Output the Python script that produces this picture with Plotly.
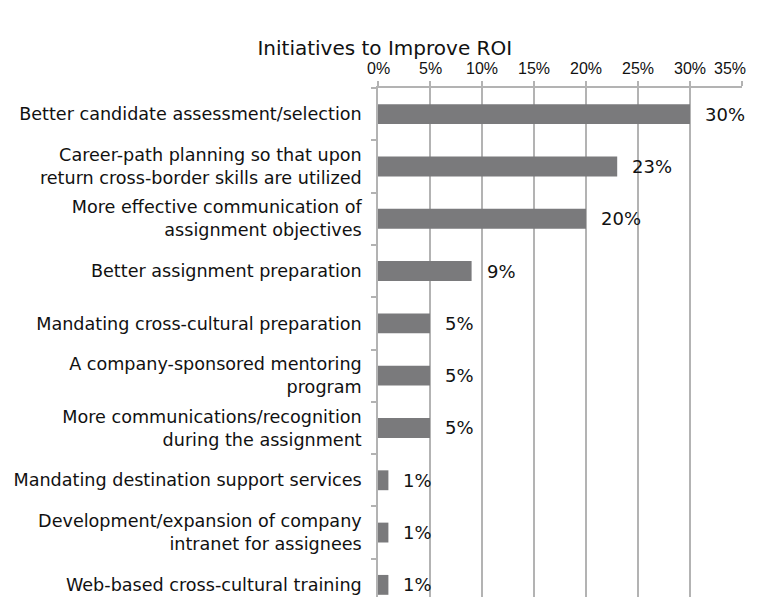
import plotly.graph_objects as go

categories = [
    "Better candidate assessment/selection",
    "Career-path planning so that upon<br>return cross-border skills are utilized",
    "More effective communication of<br>assignment objectives",
    "Better assignment preparation",
    "Mandating cross-cultural preparation",
    "A company-sponsored mentoring<br>program",
    "More communications/recognition<br>during the assignment",
    "Mandating destination support services",
    "Development/expansion of company<br>intranet for assignees",
    "Web-based cross-cultural training",
]
values = [30, 23, 20, 9, 5, 5, 5, 1, 1, 1]
x_ticks = [0, 5, 10, 15, 20, 25, 30, 35]

FONT = "DejaVu Sans, Liberation Sans, Arial, sans-serif"
TICKFONT = "Liberation Sans, Arial, sans-serif"
GRID = "#b3b3b3"

fig = go.Figure()
fig.add_trace(go.Bar(
    x=values,
    y=categories,
    orientation="h",
    marker=dict(color="#7a7a7c", line=dict(width=0)),
    width=0.38,
    hoverinfo="skip",
))

for c, v in zip(categories, values):
    fig.add_annotation(
        x=v, y=c, text=f"{v}%", showarrow=False,
        xanchor="left", yanchor="middle", xshift=13,
        font=dict(family=FONT, size=18, color="#111111"),
    )

# x-axis tick labels drawn as annotations at the tick values
last_tick = x_ticks[-1]
for t in x_ticks:
    is_last = t == last_tick
    fig.add_annotation(
        x=t, xref="x", y=1, yref="paper", text=f"{t}%", showarrow=False,
        xanchor="right" if is_last else "center",
        xshift=6 if is_last else 0,
        yanchor="bottom", yshift=9,
        font=dict(family=TICKFONT, size=16, color="#111111"),
    )

# page body has an 8px default margin; size the figure so no scrollbars appear
fig.update_layout(
    width=752, height=589,
    margin=dict(l=370, r=18, t=80, b=0),
    paper_bgcolor="white", plot_bgcolor="white",
    showlegend=False,
    font=dict(family=FONT, color="#111111"),
    title=dict(
        text="Initiatives to Improve ROI",
        x=0.501, xanchor="center", y=0.932, yanchor="middle",
        font=dict(family=FONT, size=20, color="#111111"),
    ),
)

fig.update_xaxes(
    side="top",
    range=[0, 35],
    tickvals=x_ticks,
    showticklabels=False,
    showgrid=True, gridcolor=GRID, gridwidth=1.5,
    showline=True, linecolor=GRID, linewidth=1.5,
    ticks="outside", ticklen=5, tickcolor=GRID, tickwidth=1.5,
    zeroline=False,
    automargin=False,
)
fig.update_yaxes(
    type="category",
    categoryorder="array", categoryarray=categories,
    range=[9.232, -0.5],
    showline=True, linecolor=GRID, linewidth=1.5,
    ticks="outside", ticklen=5, tickcolor=GRID, tickwidth=1.5,
    tickson="boundaries",
    showgrid=False,
    ticklabelstandoff=11,
    tickfont=dict(family=FONT, size=17.6, color="#111111"),
    automargin=False,
)

fig.write_html("out.html")
